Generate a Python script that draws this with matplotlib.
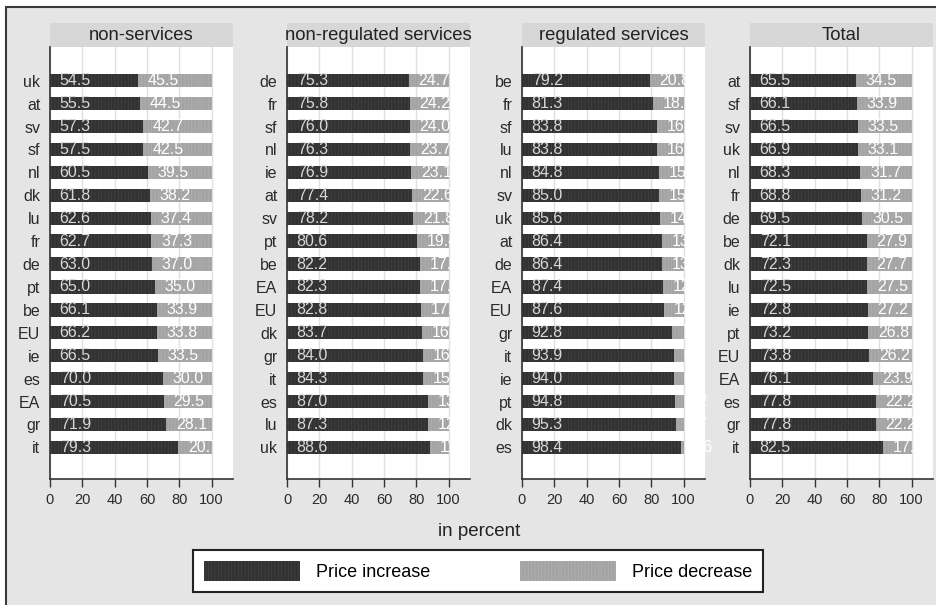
import matplotlib.pyplot as plt
from matplotlib.patches import Rectangle

plt.rcParams['font.family'] = ['Liberation Sans', 'DejaVu Sans']
plt.rcParams['hatch.linewidth'] = 0.4

# share of price changes that were increases / decreases, by sector and country
panel_titles = ['non-services', 'non-regulated services', 'regulated services', 'Total']

ns_countries = ['uk', 'at', 'sv', 'sf', 'nl', 'dk', 'lu', 'fr', 'de', 'pt', 'be', 'EU', 'ie', 'es', 'EA', 'gr', 'it']
ns_increase = [54.5, 55.5, 57.3, 57.5, 60.5, 61.8, 62.6, 62.7, 63.0, 65.0, 66.1, 66.2, 66.5, 70.0, 70.5, 71.9, 79.3]
ns_decrease = [45.5, 44.5, 42.7, 42.5, 39.5, 38.2, 37.4, 37.3, 37.0, 35.0, 33.9, 33.8, 33.5, 30.0, 29.5, 28.1, 20.7]

nrs_countries = ['de', 'fr', 'sf', 'nl', 'ie', 'at', 'sv', 'pt', 'be', 'EA', 'EU', 'dk', 'gr', 'it', 'es', 'lu', 'uk']
nrs_increase = [75.3, 75.8, 76.0, 76.3, 76.9, 77.4, 78.2, 80.6, 82.2, 82.3, 82.8, 83.7, 84.0, 84.3, 87.0, 87.3, 88.6]
nrs_decrease = [24.7, 24.2, 24.0, 23.7, 23.1, 22.6, 21.8, 19.4, 17.8, 17.7, 17.2, 16.3, 16.0, 15.7, 13.0, 12.7, 11.4]

rs_countries = ['be', 'fr', 'sf', 'lu', 'nl', 'sv', 'uk', 'at', 'de', 'EA', 'EU', 'gr', 'it', 'ie', 'pt', 'dk', 'es']
rs_increase = [79.2, 81.3, 83.8, 83.8, 84.8, 85.0, 85.6, 86.4, 86.4, 87.4, 87.6, 92.8, 93.9, 94.0, 94.8, 95.3, 98.4]
rs_decrease = [20.8, 18.7, 16.2, 16.2, 15.2, 15.0, 14.4, 13.6, 13.6, 12.6, 12.4, 7.2, 6.1, 6.0, 5.2, 4.7, 1.6]

tot_countries = ['at', 'sf', 'sv', 'uk', 'nl', 'fr', 'de', 'be', 'dk', 'lu', 'ie', 'pt', 'EU', 'EA', 'es', 'gr', 'it']
tot_increase = [65.5, 66.1, 66.5, 66.9, 68.3, 68.8, 69.5, 72.1, 72.3, 72.5, 72.8, 73.2, 73.8, 76.1, 77.8, 77.8, 82.5]
tot_decrease = [34.5, 33.9, 33.5, 33.1, 31.7, 31.2, 30.5, 27.9, 27.7, 27.5, 27.2, 26.8, 26.2, 23.9, 22.2, 22.2, 17.5]

x_ticks = [0, 20, 40, 60, 80, 100]

DARK = '#323232'
LIGHT = '#a4a4a4'
BG = '#e5e5e5'
STRIP = '#d7d7d7'

W, H = 936, 605
fig = plt.figure(figsize=(W / 100, H / 100), dpi=100)
fig.patch.set_facecolor('white')

# outer graph region with its frame (left and top edges show)
fig.patches.append(Rectangle((6 / W, -0.1), 1.2, 1.1 - 7 / H, transform=fig.transFigure,
                             facecolor=BG, edgecolor='#3a3a3a', lw=1.5, zorder=-2))

panels = [
    (panel_titles[0], ns_countries, ns_increase, ns_decrease),
    (panel_titles[1], nrs_countries, nrs_increase, nrs_decrease),
    (panel_titles[2], rs_countries, rs_increase, rs_decrease),
    (panel_titles[3], tot_countries, tot_increase, tot_decrease),
]
lefts = [50, 287, 522, 750]
pw = 183

for (title, cats, inc, dec), x0 in zip(panels, lefts):
    ax = fig.add_axes([x0 / W, 1 - 479 / H, pw / W, 432 / H])
    ax.set_facecolor('white')
    ypos = list(range(len(cats)))
    b_inc = ax.barh(ypos, inc, height=0.58, color=DARK, edgecolor='#474747',
                    linewidth=0, hatch='|||||', zorder=2)
    b_dec = ax.barh(ypos, dec, left=inc, height=0.58, color=LIGHT, edgecolor='#b4b4b4',
                    linewidth=0, hatch='|||||', zorder=2)
    for y, a, b in zip(ypos, inc, dec):
        ax.text(6, y, f'{a:.1f}', color='#d8d8d8', va='center', ha='left',
                fontsize=11.5, zorder=3)
        ax.text(a + 6, y, f'{b:.1f}', color='white', va='center', ha='left',
                fontsize=11.5, zorder=3)

    ax.set_xlim(0, 113.2)
    ax.set_ylim(len(cats) - 1 + 1.38, -1.47)
    ax.set_yticks(ypos, cats)
    ax.set_xticks(x_ticks)
    ax.tick_params(axis='y', length=0, pad=7, labelsize=11.5, labelcolor='#2a2a2a')
    ax.tick_params(axis='x', length=6, width=1, pad=4, labelsize=10.5,
                   color='#333333', labelcolor='#2a2a2a')
    ax.grid(axis='x', color='#e0e0e0', lw=1)
    ax.set_axisbelow(True)
    for s in ['top', 'right']:
        ax.spines[s].set_visible(False)
    for s in ['left', 'bottom']:
        ax.spines[s].set_color('#333333')
        ax.spines[s].set_linewidth(1.2)

    # title strip above each panel
    fig.patches.append(Rectangle((x0 / W, 1 - 47 / H), pw / W, 24 / H,
                                 transform=fig.transFigure, facecolor=STRIP,
                                 edgecolor='none', zorder=-1))
    fig.text((x0 + pw / 2) / W, 1 - 35 / H, title, ha='center', va='center',
             fontsize=13.3, color='#222222')

fig.text(479 / W, 1 - 531 / H, 'in percent', ha='center', va='center',
         fontsize=13.5, color='#222222')

leg = fig.legend([b_inc, b_dec], ['Price increase', 'Price decrease'],
                 loc='center', bbox_to_anchor=(193 / W, 1 - 594 / H, 570 / W, 46 / H),
                 mode='expand', borderaxespad=0, ncol=2, fontsize=13,
                 handlelength=5.3, handleheight=1.4, handletextpad=0.9, borderpad=0.6,
                 fancybox=False, framealpha=1, edgecolor='#222222')
leg.get_frame().set_linewidth(1.5)

fig.savefig('out.png', dpi=100)
